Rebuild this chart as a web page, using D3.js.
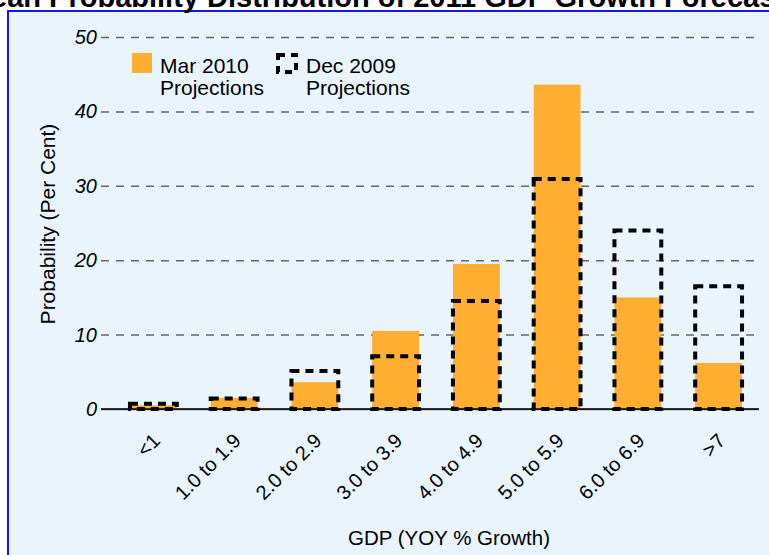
<!DOCTYPE html>
<html>
<head>
<meta charset="utf-8">
<script src="https://cdn.jsdelivr.net/npm/d3@7"></script>
<style>
  body { margin: 0; background: #fff; }
  svg { display: block; font-family: Arial, "Liberation Sans", sans-serif; }
</style>
</head>
<body>
<svg width="769" height="555"></svg>
<script>
// categories and the two projection series (per cent)
const categories = ['<1', '1.0 to 1.9', '2.0 to 2.9', '3.0 to 3.9', '4.0 to 4.9', '5.0 to 5.9', '6.0 to 6.9', '>7'];
const mar2010 = [0.5, 1.5, 3.6, 10.5, 19.5, 43.6, 15.0, 6.2];
const dec2009 = [0.7, 1.4, 5.1, 7.1, 14.5, 30.9, 24.0, 16.5];
const yTicks = [0, 10, 20, 30, 40, 50];

const svg = d3.select('svg');

// frame
svg.append('rect')
    .attr('x', 8).attr('y', 11)
    .attr('width', 800).attr('height', 600)
    .attr('fill', '#eaf4fd')
    .attr('stroke', '#1414f5')
    .attr('stroke-width', 2);

// title (runs off the top of the window)
svg.append('text')
    .attr('x', 384).attr('y', 7)
    .attr('text-anchor', 'middle')
    .attr('font-size', 29)
    .attr('font-weight', 'bold')
    .text('Mean Probability Distribution of 2011 GDP Growth Forecasts');

const x = d3.scaleBand()
    .domain(categories)
    .range([113, 759])
    .paddingInner(0.42)
    .paddingOuter(0.21);

const y = d3.scaleLinear()
    .domain([0, 50])
    .range([409, 37]);

// grid + y labels
const yAxis = svg.append('g')
    .attr('transform', 'translate(101,0)')
    .call(d3.axisLeft(y).tickValues(yTicks).tickSize(-658).tickPadding(4));
yAxis.select('.domain').remove();
yAxis.selectAll('.tick line')
    .attr('stroke', '#666')
    .attr('stroke-width', 1.5)
    .attr('stroke-dasharray', (d) => d === 0 ? null : '8,7');
yAxis.selectAll('.tick text')
    .attr('font-size', 20)
    .attr('font-style', 'italic')
    .attr('fill', '#000')
    .attr('font-family', 'Arial, "Liberation Sans", sans-serif');

// Mar 2010 bars
svg.append('g').selectAll('rect')
    .data(mar2010)
    .join('rect')
    .attr('x', (d, i) => x(categories[i]))
    .attr('y', (d) => y(d))
    .attr('width', x.bandwidth())
    .attr('height', (d) => y(0) - y(d))
    .attr('fill', '#feae30');

// zero line
svg.append('line')
    .attr('x1', 101).attr('x2', 759)
    .attr('y1', y(0)).attr('y2', y(0))
    .attr('stroke', '#000')
    .attr('stroke-width', 1.5);

// Dec 2009 dashed outlines
svg.append('g').selectAll('rect')
    .data(dec2009)
    .join('rect')
    .attr('x', (d, i) => x(categories[i]))
    .attr('y', (d) => y(d))
    .attr('width', x.bandwidth())
    .attr('height', (d) => y(0) - y(d))
    .attr('fill', 'none')
    .attr('stroke', '#000')
    .attr('stroke-width', 4)
    .attr('stroke-dasharray', '8,6');

// x labels rotated
svg.append('g').selectAll('text')
    .data(categories)
    .join('text')
    .attr('transform', (d) => `translate(${x(d) + x.bandwidth() / 2 + 8},442) rotate(-45)`)
    .attr('text-anchor', 'end')
    .attr('font-size', 20)
    .text((d) => d);

// axis titles
svg.append('text')
    .attr('x', 449).attr('y', 545)
    .attr('text-anchor', 'middle')
    .attr('font-size', 20.5)
    .text('GDP (YOY % Growth)');

svg.append('text')
    .attr('transform', 'translate(55,224) rotate(-90)')
    .attr('text-anchor', 'middle')
    .attr('font-size', 21)
    .text('Probability (Per Cent)');

// legend
const legend = svg.append('g');
legend.append('rect')
    .attr('x', 132).attr('y', 53)
    .attr('width', 20).attr('height', 20)
    .attr('fill', '#feae30');
legend.append('rect')
    .attr('x', 278).attr('y', 55)
    .attr('width', 18).attr('height', 17)
    .attr('fill', 'none')
    .attr('stroke', '#000')
    .attr('stroke-width', 4)
    .attr('stroke-dasharray', '7,6');

const legendText = [
    { x: 160, lines: ['Mar 2010', 'Projections'] },
    { x: 306, lines: ['Dec 2009', 'Projections'] }
];
legend.selectAll('text.lg')
    .data(legendText)
    .join('text')
    .attr('class', 'lg')
    .attr('font-size', 21)
    .selectAll('tspan')
    .data((d) => d.lines.map((t, i) => ({ t, i, x: d.x })))
    .join('tspan')
    .attr('x', (d) => d.x)
    .attr('y', (d) => 73 + d.i * 22)
    .text((d) => d.t);
</script>
</body>
</html>
